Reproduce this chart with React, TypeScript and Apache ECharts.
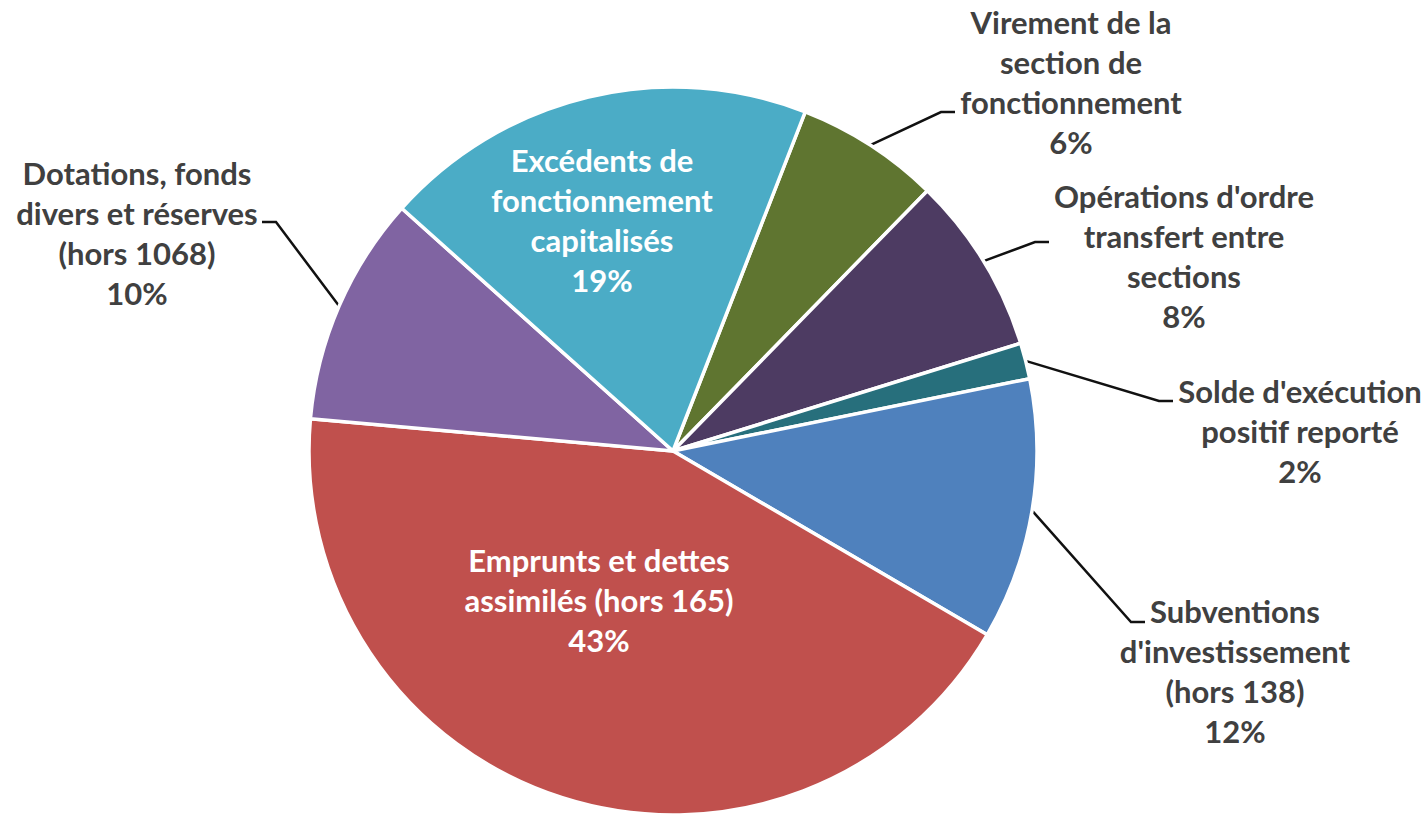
import React, { useEffect, useRef } from "react";
import * as echarts from "echarts";

// Categories (as written in the chart, with its line breaks)
const categories: string[] = [
  "Virement de la\nsection de\nfonctionnement",
  "Opérations d'ordre\ntransfert entre\nsections",
  "Solde d'exécution\npositif reporté",
  "Subventions\nd'investissement\n(hors 138)",
  "Emprunts et dettes\nassimilés (hors 165)",
  "Dotations, fonds\ndivers et réserves\n(hors 1068)",
  "Excédents de\nfonctionnement\ncapitalisés",
];

// Shares (percent of total)
const shares: number[] = [6.4, 7.9, 1.6, 11.6, 43.0, 10.2, 19.3];

// Styling
const sliceColors: string[] = ["#5F7530", "#4D3B62", "#276F7C", "#4F81BD", "#C0504D", "#8064A2", "#4BACC6"];
const insideLabel: boolean[] = [false, false, false, false, true, false, true];

// Label layout (centre of each label block) and leader-line attach points
const labelCenters: number[][] = [
  [1071, 82],
  [1184, 256],
  [1300, 431],
  [1235, 671],
  [599, 600],
  [137, 233],
  [602, 220],
];
const leaderAttach: (number[] | null)[] = [
  [955, 112],
  [1049, 242],
  [1173, 401],
  [1145, 622],
  null,
  [262, 222],
  null,
];

export default function App() {
  const ref = useRef<HTMLDivElement>(null);

  useEffect(() => {
    if (!ref.current) return;
    const chart = echarts.init(ref.current, undefined, { renderer: "svg" });
    const lineStyle = { color: "#111111", width: 2.5 };
    const data = categories.map((name, i) => ({
      name,
      value: shares[i],
      itemStyle: { color: sliceColors[i] },
      label: insideLabel[i]
        ? { position: "inside", color: "#FFFFFF" }
        : { position: "outside", color: "#404040" },
      labelLine: { show: !insideLabel[i], lineStyle },
    }));
    chart.setOption({
      animation: false,
      backgroundColor: "#FFFFFF",
      series: [
        {
          type: "pie",
          center: [673, 451],
          radius: 364,
          startAngle: 68.7,
          clockwise: true,
          avoidLabelOverlap: false,
          silent: true,
          itemStyle: { borderColor: "#FFFFFF", borderWidth: 3.5 },
          label: {
            show: true,
            fontFamily: "Lato",
            fontWeight: "bold",
            fontSize: 31,
            lineHeight: 40,
            align: "center",
            formatter: (p: any) => `${p.name}\n${Math.round(p.percent)}%`,
          },
          labelLine: {
            show: true,
            length: 10,
            length2: 10,
            smooth: false,
            lineStyle,
          },
          labelLayout: (params: any) => {
            const i = params.dataIndex;
            const c = labelCenters[i];
            const out: any = { x: c[0], y: c[1], align: "center", verticalAlign: "middle" };
            const a = leaderAttach[i];
            if (a && params.labelLinePoints) {
              const p0 = params.labelLinePoints[0];
              const dir = a[0] > p0[0] ? -1 : 1;
              out.labelLinePoints = [p0, [a[0] + dir * 14, a[1]], [a[0], a[1]]];
            }
            return out;
          },
          data,
        },
      ],
    });
    return () => chart.dispose();
  }, []);

  return (
    <div
      ref={ref}
      style={{ position: "absolute", left: 0, top: 0, width: 1428, height: 818, background: "#fff" }}
    />
  );
}
